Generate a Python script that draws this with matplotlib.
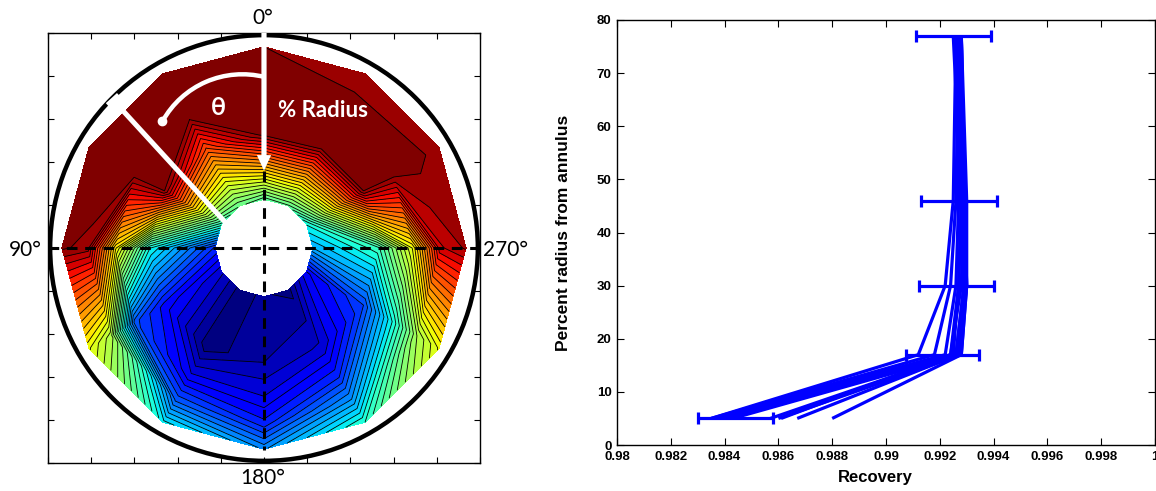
import numpy as np
import matplotlib
matplotlib.use("Agg")
import matplotlib.pyplot as plt
from matplotlib.patches import Circle, Arc, FancyArrow

# ---- cross-section field: 12 azimuthal stations x 5 radial stations ----
theta_deg = [0, 30, 60, 90, 120, 150, 180, 210, 240, 270, 300, 330]
pct_radius = [5, 17, 30, 46, 77]          # percent radius from annulus wall

# normalised field value, one row per azimuth (wall -> core)
field_0 = [0.975, 1.00, 1.00, 0.99, 0.46]
field_30 = [1.00, 1.00, 0.975, 0.82, 0.48]
field_60 = [1.00, 1.00, 0.99, 0.975, 0.42]
field_90 = [0.98, 0.965, 0.66, 0.38, 0.17]
field_120 = [0.63, 0.56, 0.21, 0.14, 0.08]
field_150 = [0.36, 0.22, 0.11, 0.01, 0.015]
field_180 = [0.27, 0.16, 0.10, 0.05, 0.03]
field_210 = [0.40, 0.28, 0.17, 0.08, 0.015]
field_240 = [0.63, 0.55, 0.38, 0.20, 0.12]
field_270 = [0.955, 0.92, 0.63, 0.42, 0.30]
field_300 = [0.96, 0.985, 0.99, 0.975, 0.38]
field_330 = [0.96, 0.978, 1.00, 0.975, 0.47]

# ---- recovery profiles, one per azimuth (values at pct_radius) ----
recovery_0 = [0.9835, 0.9912, 0.9922, 0.9925, 0.9926]
recovery_30 = [0.9835, 0.9918, 0.9924, 0.9926, 0.9927]
recovery_60 = [0.9836, 0.9922, 0.9926, 0.9927, 0.9926]
recovery_90 = [0.9837, 0.9924, 0.9928, 0.9929, 0.9928]
recovery_120 = [0.9838, 0.9926, 0.9929, 0.9929, 0.9927]
recovery_150 = [0.9840, 0.9925, 0.9927, 0.9928, 0.9925]
recovery_180 = [0.9843, 0.9927, 0.9930, 0.9929, 0.9928]
recovery_210 = [0.9857, 0.9926, 0.9929, 0.9928, 0.9927]
recovery_240 = [0.9860, 0.9928, 0.9930, 0.9930, 0.9928]
recovery_270 = [0.9861, 0.9924, 0.9927, 0.9928, 0.9926]
recovery_300 = [0.9867, 0.9927, 0.9929, 0.9929, 0.9928]
recovery_330 = [0.9880, 0.9928, 0.9930, 0.9929, 0.9927]

err_center = [0.98441, 0.99211, 0.99261, 0.99271, 0.99252]
err_half = [0.00139, 0.00136, 0.00140, 0.00140, 0.00140]

x_tick_values = [0.98, 0.982, 0.984, 0.986, 0.988, 0.99, 0.992, 0.994, 0.996, 0.998, 1.0]
x_tick_labels = ["0.98", "0.982", "0.984", "0.986", "0.988", "0.99", "0.992",
                 "0.994", "0.996", "0.998", "1"]
y_tick_values = [0, 10, 20, 30, 40, 50, 60, 70, 80]

angle_labels = ["0°", "90°", "180°", "270°"]

field_rows = [field_0, field_30, field_60, field_90, field_120, field_150,
              field_180, field_210, field_240, field_270, field_300, field_330]
recovery_rows = [recovery_0, recovery_30, recovery_60, recovery_90, recovery_120,
                 recovery_150, recovery_180, recovery_210, recovery_240,
                 recovery_270, recovery_300, recovery_330]

W, H = 1156, 491
fig = plt.figure(figsize=(W / 100, H / 100), dpi=100)

# ================= left: contour map of the pipe cross-section =================
axL = fig.add_axes([48 / W, (H - 463) / H, 432 / W, 430 / H])

R_wall = 0.985
r = R_wall * (1 - np.array(pct_radius) / 100.0)
th = np.deg2rad(np.array(theta_deg + [360]))
Z = np.array(field_rows + [field_rows[0]]).T          # (radius, azimuth)
X = -r[:, None] * np.sin(th[None, :])
Y = r[:, None] * np.cos(th[None, :])

n_bands = 40
levels = np.linspace(0, 1, n_bands + 1)
band_colors = plt.get_cmap("jet")(np.linspace(0, 1, n_bands))
axL.contourf(X, Y, Z, levels=levels, colors=band_colors)
axL.contour(X, Y, Z, levels=levels[1:-1], colors="k", linewidths=0.6)

# pipe wall
axL.add_patch(Circle((0, 0), 0.99, fill=False, ec="k", lw=3.2, zorder=5))

# centre lines
axL.plot([-1.0, 1.0], [0, 0], color="k", lw=2.2, ls=(0, (3.5, 2.5)), zorder=6)
axL.plot([0, 0], [0.36, -0.94], color="k", lw=2.2, ls=(0, (3.5, 2.5)), zorder=6)

# radial-position arrow
axL.add_patch(FancyArrow(0, 1.01, 0, -0.65, width=0.024, head_width=0.066,
                         head_length=0.072, length_includes_head=True,
                         color="white", ec="none", zorder=7))

# azimuth marker line with a tick at the wall
p_out = np.array([-0.70, 0.69])
p_in = np.array([-0.177, 0.117])
axL.plot([p_out[0], p_in[0]], [p_out[1], p_in[1]], color="white", lw=3.6,
         solid_capstyle="butt", zorder=7)
d = (p_in - p_out) / np.linalg.norm(p_in - p_out)
n = np.array([-d[1], d[0]])
axL.plot([p_out[0] - 0.035 * n[0], p_out[0] + 0.035 * n[0]],
         [p_out[1] - 0.035 * n[1], p_out[1] + 0.035 * n[1]],
         color="white", lw=3.0, solid_capstyle="butt", zorder=7)

# angle arc
axL.add_patch(Arc((-0.10, 0.386), 0.844, 0.844, theta1=76, theta2=151,
                  color="white", lw=3.2, zorder=7))
axL.plot([-0.47], [0.59], "o", color="white", ms=6, zorder=7)

axL.text(-0.213, 0.655, "θ", color="white", fontsize=18, fontweight="bold",
         family=["Lato", "DejaVu Sans"], ha="center", va="center", zorder=8)
axL.text(0.272, 0.640, "% Radius", color="white", fontsize=16, fontweight="bold",
         family=["Lato", "DejaVu Sans"], ha="center", va="center", zorder=8)

axL.set_xlim(-1, 1)
axL.set_ylim(-1, 1)
ticks = np.linspace(-1, 1, 11)
axL.set_xticks(ticks)
axL.set_yticks(ticks)
axL.set_xticklabels([])
axL.set_yticklabels([])
axL.tick_params(direction="in", length=4, width=0.8, top=True, right=True)
for s in axL.spines.values():
    s.set_linewidth(1.0)

label_pos = [(263, 18), (25, 250), (263, 478), (505, 250)]
for lab, (px, py) in zip(angle_labels, label_pos):
    fig.text(px / W, 1 - py / H, lab, fontsize=15, family=["Lato", "DejaVu Sans"],
             ha="center", va="center")

# ================= right: recovery profiles =================
axR = fig.add_axes([617 / W, (H - 445) / H, 538 / W, 425 / H])
for row in recovery_rows:
    axR.plot(row, pct_radius, color="#0000ff", lw=2.3, solid_capstyle="butt")
axR.errorbar(err_center, pct_radius, xerr=err_half, fmt="none", ecolor="#0000ff",
             elinewidth=2.3, capsize=4, capthick=2.3)

axR.set_xlim(0.98, 1.0)
axR.set_ylim(0, 80)
axR.set_xticks(x_tick_values)
axR.set_xticklabels(x_tick_labels)
axR.set_yticks(y_tick_values)
axR.tick_params(direction="in", length=5, width=0.8, top=True, right=True, pad=4)
for lab in axR.get_xticklabels() + axR.get_yticklabels():
    lab.set_fontsize(9.5)
    lab.set_fontweight("bold")
    lab.set_family("Liberation Sans")
axR.set_xlabel("Recovery", fontsize=12, fontweight="bold", family="Liberation Sans")
axR.xaxis.set_label_coords((875 - 617) / 538, -25 / 425)
axR.set_ylabel("Percent radius from annulus", fontsize=12.5, fontweight="bold",
               family="Liberation Sans")
axR.yaxis.set_label_coords((571 - 617) / 538, 0.5)
for s in axR.spines.values():
    s.set_linewidth(1.0)

fig.savefig("out.png", dpi=100)
